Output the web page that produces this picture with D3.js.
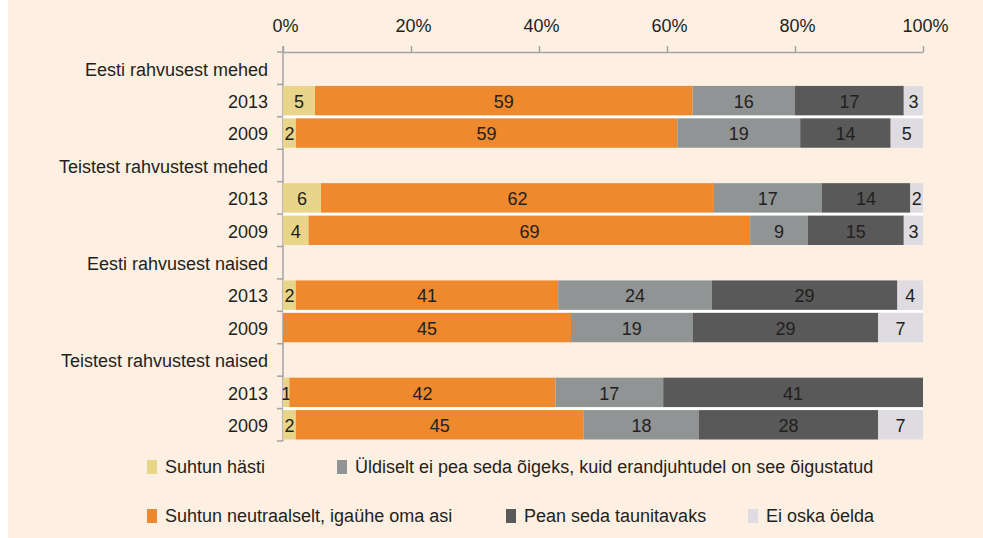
<!DOCTYPE html>
<html>
<head>
<meta charset="utf-8">
<script src="https://cdn.jsdelivr.net/npm/d3@7"></script>
<style>
  body { margin: 0; background: #fff; }
  svg { display: block; font-family: "Liberation Sans", Arial, sans-serif; }
</style>
</head>
<body>
<div id="chart"></div>
<script>
// groups and years (top to bottom)
var groups = ["Eesti rahvusest mehed", "Teistest rahvustest mehed", "Eesti rahvusest naised", "Teistest rahvustest naised"];
var years = ["2013", "2009"];
var answers = ["Suhtun hästi", "Suhtun neutraalselt, igaühe oma asi",
  "Üldiselt ei pea seda õigeks, kuid erandjuhtudel on see õigustatud",
  "Pean seda taunitavaks", "Ei oska öelda"];
var colors = ["#e9d589", "#ee892e", "#919494", "#585958", "#dedce1"];

// values per group: [2013 row, 2009 row], order as in answers
var eestiMehed = [[5, 59, 16, 17, 3], [2, 59, 19, 14, 5]];
var teisedMehed = [[6, 62, 17, 14, 2], [4, 69, 9, 15, 3]];
var eestiNaised = [[2, 41, 24, 29, 4], [0, 45, 19, 29, 7]];
var teisedNaised = [[1, 42, 17, 41, 0], [2, 45, 18, 28, 7]];
var values = [eestiMehed, teisedMehed, eestiNaised, teisedNaised];

var xTicks = [0, 20, 40, 60, 80, 100];

var width = 983, height = 538;

var svg = d3.select("#chart").append("svg")
  .attr("width", width)
  .attr("height", height);

svg.append("rect")
  .attr("x", 8).attr("y", 0)
  .attr("width", width - 8).attr("height", height)
  .attr("fill", "#fdf0e2");

// one row for the group label, then one per year
var rows = [];
groups.forEach(function(g, gi) {
  rows.push({ id: "g" + gi, type: "group", label: g });
  years.forEach(function(yr, yi) {
    rows.push({ id: "g" + gi + "y" + yi, type: "bar", label: yr, gi: gi, yi: yi, vals: values[gi][yi] });
  });
});

var x = d3.scaleLinear().domain([0, 100]).range([283, 923]);
var y = d3.scaleBand().domain(rows.map(function(r) { return r.id; })).range([52, 441]);
var bw = y.bandwidth();

var axisColor = "#a3a3a3";
var textColor = "#231f20";

// top axis
var xAxis = svg.append("g")
  .attr("transform", "translate(0,52)")
  .call(d3.axisTop(x).tickValues(xTicks).tickSize(6).tickSizeOuter(0).tickFormat(function(d) { return d + "%"; }));
xAxis.select(".domain").attr("stroke", axisColor).attr("stroke-width", 1.5);
xAxis.selectAll(".tick line").attr("stroke", axisColor).attr("stroke-width", 1.5);
xAxis.selectAll(".tick text")
  .attr("y", -26).attr("dy", "0.35em").attr("dx", 2)
  .attr("fill", textColor)
  .style("font-size", "18px");

// left axis line with ticks at row boundaries
svg.append("line")
  .attr("x1", x(0)).attr("x2", x(0))
  .attr("y1", 46).attr("y2", 441)
  .attr("stroke", axisColor).attr("stroke-width", 1.5);
var bounds = rows.map(function(r) { return y(r.id); }).concat([y.range()[1]]);
svg.selectAll(".ytick").data(bounds).enter().append("line")
  .attr("x1", x(0) - 6).attr("x2", x(0))
  .attr("y1", function(d) { return d; }).attr("y2", function(d) { return d; })
  .attr("stroke", axisColor).attr("stroke-width", 1.5);

// row labels
svg.selectAll(".rowlabel").data(rows).enter().append("text")
  .attr("x", 268)
  .attr("y", function(d) { return y(d.id) + bw / 2 + 1; })
  .attr("dy", "0.35em")
  .attr("text-anchor", "end")
  .attr("fill", textColor)
  .style("font-size", "18px")
  .text(function(d) { return d.label; });

// white gap between the two bars of a group
groups.forEach(function(g, gi) {
  svg.append("rect")
    .attr("x", x(0)).attr("width", x(100) - x(0))
    .attr("y", y("g" + gi + "y0") + bw - 1.5)
    .attr("height", 3.5)
    .attr("fill", "#fff");
});

// stacked segments, each row scaled to 100
var segs = [];
rows.filter(function(r) { return r.type === "bar"; }).forEach(function(r) {
  var total = d3.sum(r.vals), acc = 0;
  r.vals.forEach(function(v, k) {
    var s = v / total * 100;
    segs.push({ row: r.id, k: k, v: v, x0: acc, x1: acc + s });
    acc += s;
  });
});

var seg = svg.selectAll(".seg").data(segs.filter(function(d) { return d.v > 0; })).enter().append("g");
seg.append("rect")
  .attr("x", function(d) { return x(d.x0); })
  .attr("width", function(d) { return x(d.x1) - x(d.x0); })
  .attr("y", function(d) { return y(d.row) + 1.5; })
  .attr("height", bw - 3)
  .attr("fill", function(d) { return colors[d.k]; });
seg.append("text")
  .attr("x", function(d) { return (x(d.x0) + x(d.x1)) / 2; })
  .attr("y", function(d) { return y(d.row) + bw / 2 + 1; })
  .attr("dy", "0.35em")
  .attr("text-anchor", "middle")
  .attr("fill", textColor)
  .style("font-size", "18px")
  .text(function(d) { return d.v; });

// legend: 2 rows
var legend = [
  { k: 0, x: 147, y: 467 }, { k: 2, x: 337, y: 467 },
  { k: 1, x: 147, y: 516 }, { k: 3, x: 506, y: 516 }, { k: 4, x: 748, y: 516 }
];
var lg = svg.selectAll(".lg").data(legend).enter().append("g")
  .attr("transform", function(d) { return "translate(" + d.x + "," + d.y + ")"; });
lg.append("rect")
  .attr("x", 0).attr("y", -7)
  .attr("width", 10).attr("height", 14)
  .attr("fill", function(d) { return colors[d.k]; });
lg.append("text")
  .attr("x", 18).attr("dy", "0.35em")
  .attr("fill", textColor)
  .style("font-size", "18px")
  .text(function(d) { return answers[d.k]; });
</script>
</body>
</html>
